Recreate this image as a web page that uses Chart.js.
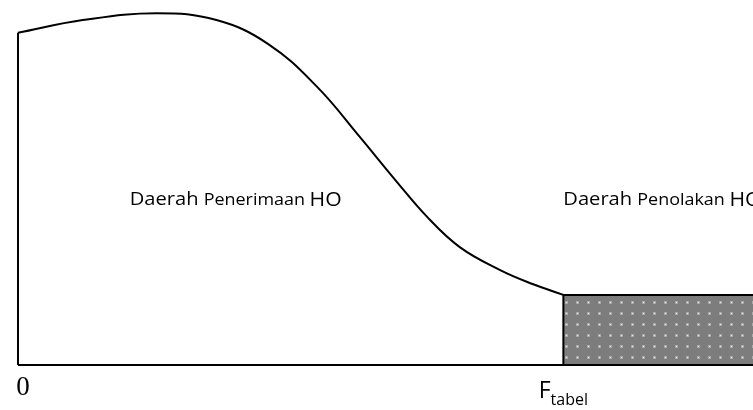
<!DOCTYPE html>
<html>
<head>
<meta charset="utf-8">
<script src="https://cdn.jsdelivr.net/npm/chart.js@4"></script>
<style>
  html, body { margin: 0; padding: 0; background: #fff; }
  canvas { display: block; }
</style>
</head>
<body>
<canvas id="chart" width="753" height="410"></canvas>
<script>
// F distribution sketch: density curve, acceptance / rejection regions
const curveX = [0, 0.88, 1.89, 2.70, 3.40, 4.07, 4.65, 5.10, 5.57, 6.01, 6.56, 7.00, 7.42];
const curveY = [0.910, 0.945, 0.964, 0.945, 0.880, 0.762, 0.625, 0.515, 0.405, 0.323, 0.260, 0.222, 0.192];
const fTabel = 7.42;
const xMax = 10;
const tailHeight = 0.192;
const regionLabels = ["Daerah Penerimaan HO", "Daerah Penolakan HO"];
const regionLabelX = [1.52, 7.42];
const regionLabelY = 0.452;
const tickLabels = ["0", "F", "tabel"];

// dotted grey fill for the rejection region
function dotPattern() {
  const c = document.createElement("canvas");
  c.width = 11; c.height = 11;
  const g = c.getContext("2d");
  g.fillStyle = "#7d7d7d";
  g.fillRect(0, 0, 11, 11);
  g.fillStyle = "#a8a8a8";
  g.fillRect(4, 4, 3, 3);
  g.fillStyle = "#ececec";
  g.fillRect(5, 5, 1, 1);
  return g.createPattern(c, "repeat");
}

const textPlugin = {
  id: "sketchText",
  afterDraw(chart) {
    const { ctx, scales } = chart;
    const xs = scales.x, ys = scales.y;
    ctx.save();
    ctx.fillStyle = "#000";
    ctx.textBaseline = "middle";

    // region labels, mixed sizes like the original
    const segs = (label) => {
      const words = label.split(" ");
      return [
        { t: words[0] + " ", size: 18.5 },
        { t: words[1] + " ", size: 16.5 },
        { t: words[2], size: 19.5 },
      ];
    };
    const widthOf = (parts) => parts.reduce((w, p) => {
      ctx.font = p.size + "px 'Open Sans'";
      return w + ctx.measureText(p.t).width;
    }, 0);
    const stretch = 212 / widthOf(segs(regionLabels[0]));
    regionLabels.forEach((label, i) => {
      let px = xs.getPixelForValue(regionLabelX[i]);
      const py = ys.getPixelForValue(regionLabelY);
      segs(label).forEach(p => {
        ctx.font = p.size + "px 'Open Sans'";
        ctx.save();
        ctx.translate(px, py);
        ctx.scale(stretch, 1);
        ctx.fillText(p.t, 0, 0);
        ctx.restore();
        px += ctx.measureText(p.t).width * stretch;
      });
    });

    // "0" under the origin
    const base = ys.getPixelForValue(0);
    ctx.textBaseline = "alphabetic";
    ctx.textAlign = "center";
    ctx.font = "27px 'Liberation Serif'";
    ctx.fillText(tickLabels[0], xs.getPixelForValue(0) + 5, base + 30);

    // F_tabel under the critical value
    ctx.textAlign = "left";
    ctx.font = "23px 'Open Sans'";
    const fw = ctx.measureText(tickLabels[1]).width;
    ctx.font = "16px 'Open Sans'";
    const sw = ctx.measureText(tickLabels[2]).width;
    let fx = xs.getPixelForValue(fTabel) - (fw + sw) / 2;
    ctx.font = "23px 'Open Sans'";
    ctx.fillText(tickLabels[1], fx, base + 33);
    ctx.font = "16px 'Open Sans'";
    ctx.fillText(tickLabels[2], fx + fw, base + 40);
    ctx.restore();
  }
};

const curve = curveX.map((x, i) => ({ x, y: curveY[i] }));

new Chart(document.getElementById("chart"), {
  type: "line",
  data: {
    datasets: [
      {
        data: curve,
        borderColor: "#000",
        borderWidth: 2,
        pointRadius: 0,
        tension: 0.4,
        fill: false,
        clip: false,
      },
      {
        // y axis line
        data: [{ x: 0, y: 0 }, { x: 0, y: curveY[0] }],
        borderColor: "#000",
        borderWidth: 2,
        pointRadius: 0,
        fill: false,
        clip: false,
      },
      {
        // x axis line
        data: [{ x: 0, y: 0 }, { x: xMax, y: 0 }],
        borderColor: "#000",
        borderWidth: 2,
        pointRadius: 0,
        fill: false,
        clip: false,
      },
      {
        // rejection region
        data: [{ x: fTabel, y: 0 }, { x: fTabel, y: tailHeight }, { x: xMax + 0.05, y: tailHeight }],
        borderColor: "#000",
        borderWidth: 2,
        backgroundColor: dotPattern(),
        pointRadius: 0,
        tension: 0,
        fill: "origin",
        clip: false,
      },
    ],
  },
  options: {
    responsive: false,
    animation: false,
    layout: { padding: { left: 18, right: 0, top: 0, bottom: 45 } },
    scales: {
      x: { type: "linear", display: false, min: 0, max: xMax },
      y: { display: false, min: 0, max: 1 },
    },
    plugins: {
      legend: { display: false },
      tooltip: { enabled: false },
    },
  },
  plugins: [textPlugin],
});
</script>
</body>
</html>
